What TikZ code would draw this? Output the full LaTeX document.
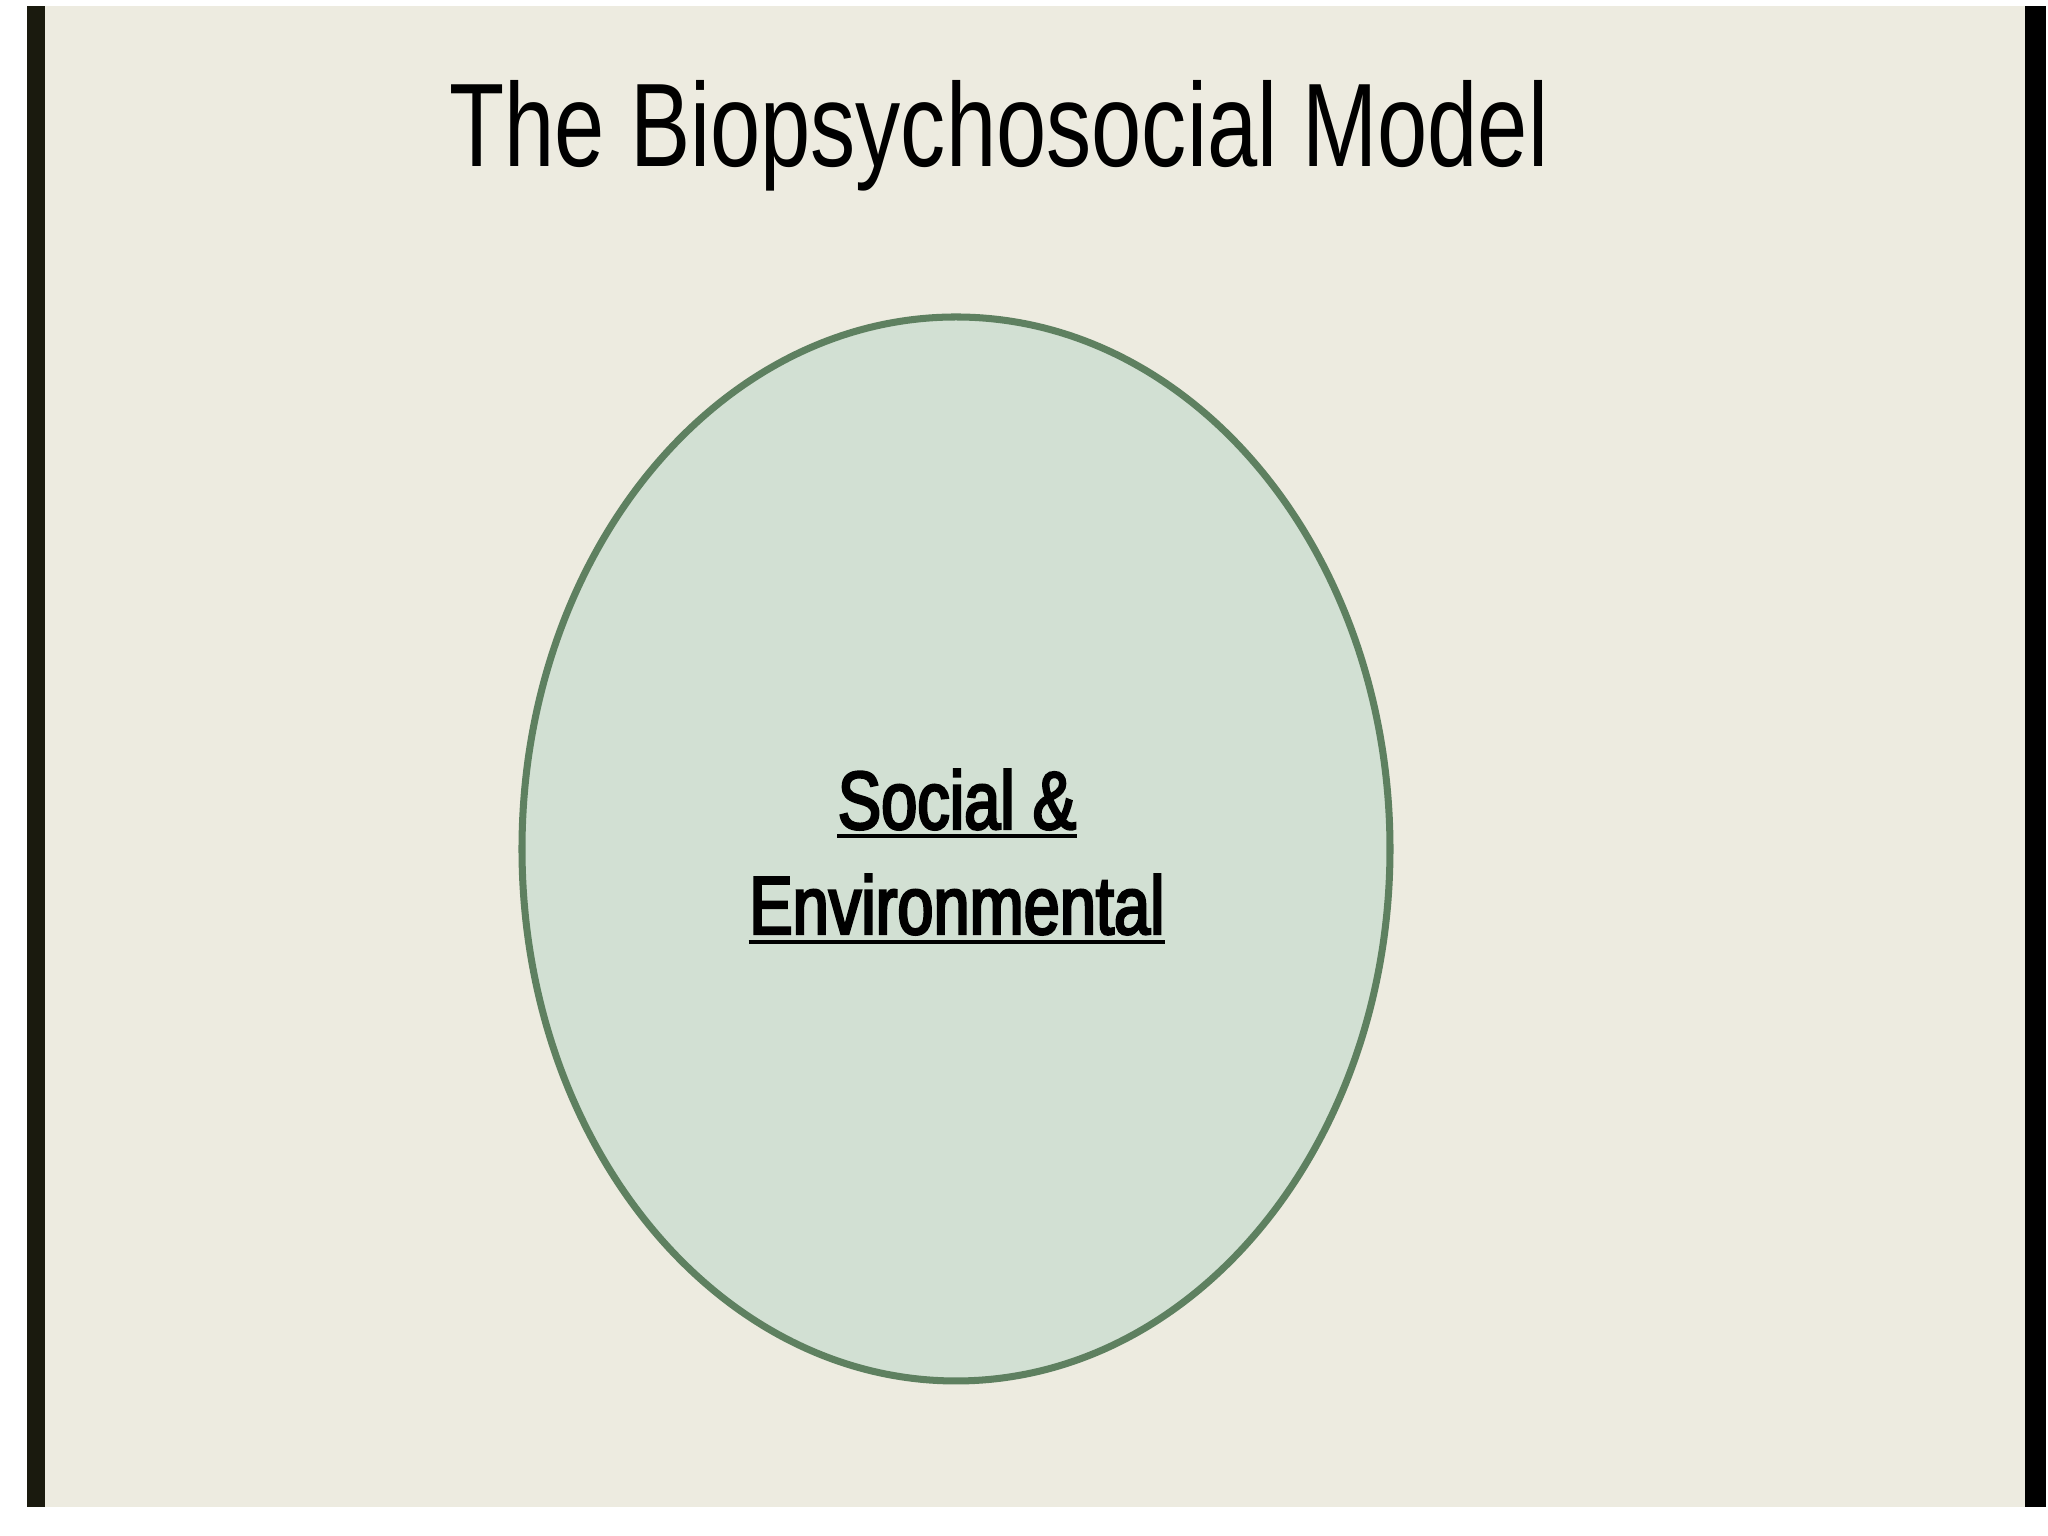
\documentclass[tikz,border=0pt]{standalone}
\usepackage{fontspec}
\setmainfont{Liberation Sans}[FakeStretch=0.76]
\newfontfamily\labelfont{Liberation Sans}[FakeStretch=0.79, FakeBold=3]
\usepackage{tikz}
\usetikzlibrary{shapes.geometric}
\definecolor{slidebg}{HTML}{EDEBE0}
\definecolor{leftbar}{HTML}{1A1A0E}
\definecolor{ovalfill}{HTML}{D2E0D3}
\definecolor{ovalline}{HTML}{5E8060}
\tikzset{
    title/.style={font=\fontsize{33.8}{40}\selectfont, anchor=base, inner sep=0pt}, % Slide heading
    label/.style={font=\labelfont\fontsize{23.4}{28}\selectfont, anchor=base, inner sep=0pt}, % Text in the oval
    uline/.style={line width=1.1pt, black}, % Underline under a label
}

\begin{document}
\begin{tikzpicture}[
    oval/.style={ellipse, fill=ovalfill, draw=ovalline, line width=2pt,
                 minimum width=8.68cm, minimum height=10.64cm, inner sep=0pt}
]
    \useasboundingbox (0,0) rectangle (20.48,15.36);

    % --- Slide ---
    \fill[slidebg] (0.45,0.29) rectangle (20.25,15.30);
    \fill[leftbar] (0.27,0.29) rectangle (0.45,15.30);
    \fill[black] (20.25,0.29) rectangle (20.46,15.30);

    % --- Heading ---
    \node[title] (head) at (9.99,13.69) {The Biopsychosocial Model};

    % --- Oval ---
    \node[oval] (social) at (9.56,6.87) {};

    % --- Label ---
    \node[label] (soc) at (9.57,7.07) {Social \&};
    \node[label] (env) at (9.57,6.02) {Environmental};
    \draw[uline] ([yshift=-0.07cm]soc.base west) -- ([yshift=-0.07cm]soc.base east);
    \draw[uline] ([yshift=-0.08cm]env.base west) -- ([yshift=-0.08cm]env.base east);

\end{tikzpicture}
\end{document}
